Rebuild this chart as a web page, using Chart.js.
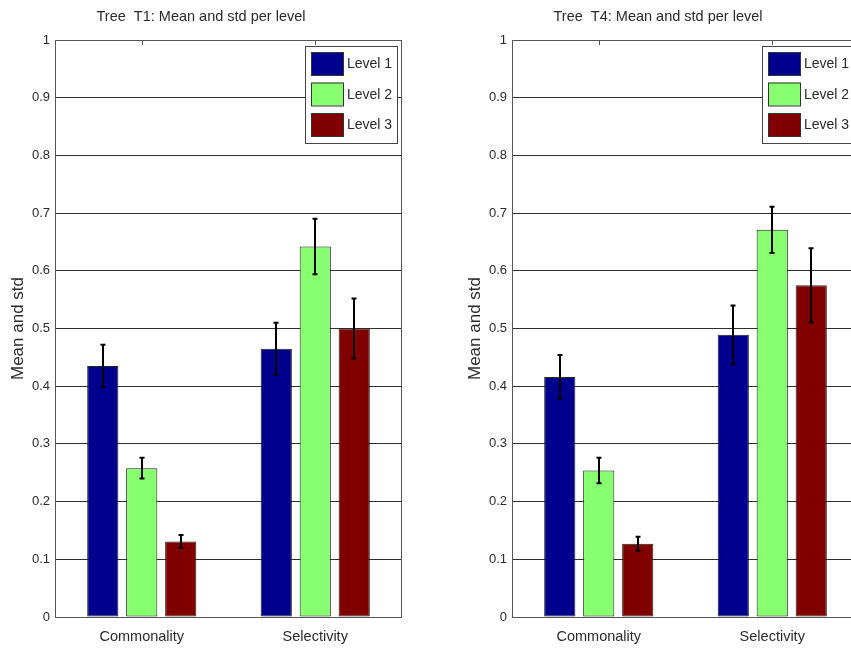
<!DOCTYPE html>
<html>
<head>
<meta charset="utf-8">
<script src="https://cdn.jsdelivr.net/npm/chart.js@4/dist/chart.umd.min.js"></script>
<style>
  html, body { margin: 0; padding: 0; background: #fff; overflow: hidden; }
  #wrap { position: relative; width: 851px; height: 651px; overflow: hidden; }
  .panel { position: absolute; top: 0; width: 457px; height: 651px; }
  #p1 { left: 0; }
  #p4 { left: 457px; }
</style>
</head>
<body>
<div id="wrap">
  <div class="panel" id="p1"><canvas id="c1" width="457" height="651"></canvas></div>
  <div class="panel" id="p4"><canvas id="c4" width="457" height="651"></canvas></div>
</div>
<script>
// Categories, series and ticks
const categories = ['Commonality', 'Selectivity'];
const levelNames = ['Level 1', 'Level 2', 'Level 3'];
const levelColors = ['#00008f', '#88ff70', '#800000'];
const yTicks = [0, 0.1, 0.2, 0.3, 0.4, 0.5, 0.6, 0.7, 0.8, 0.9, 1];

// Tree T1: mean and std per level
const t1Level1Mean = [0.435, 0.465];
const t1Level2Mean = [0.258, 0.642];
const t1Level3Mean = [0.131, 0.500];
const t1Level1Std = [0.037, 0.045];
const t1Level2Std = [0.018, 0.048];
const t1Level3Std = [0.011, 0.052];

// Tree T4: mean and std per level
const t4Level1Mean = [0.416, 0.489];
const t4Level2Mean = [0.254, 0.671];
const t4Level3Mean = [0.127, 0.575];
const t4Level1Std = [0.038, 0.051];
const t4Level2Std = [0.022, 0.040];
const t4Level3Std = [0.012, 0.064];

const FONT = "'Liberation Sans', Arial, Helvetica, sans-serif";
const TEXT = '#2a2a2a';

// Error bars: vertical whisker with small caps at mean ± std
const errorBars = {
  id: 'errorBars',
  afterDatasetsDraw(chart) {
    const ctx = chart.ctx;
    const y = chart.scales.y;
    ctx.save();
    ctx.strokeStyle = '#000';
    ctx.lineWidth = 2;
    chart.data.datasets.forEach((ds, di) => {
      const meta = chart.getDatasetMeta(di);
      meta.data.forEach((bar, i) => {
        const m = ds.data[i], s = ds.std[i];
        const top = y.getPixelForValue(m + s);
        const bot = y.getPixelForValue(m - s);
        const x = Math.round(bar.x);
        ctx.beginPath();
        ctx.moveTo(x, top); ctx.lineTo(x, bot);
        ctx.moveTo(x - 2.5, top); ctx.lineTo(x + 2.5, top);
        ctx.moveTo(x - 2.5, bot); ctx.lineTo(x + 2.5, bot);
        ctx.stroke();
      });
    });
    ctx.restore();
  }
};

// Axes box with inward category ticks on the top edge, and the legend in the corner
const frameAndLegend = {
  id: 'frameAndLegend',
  afterDraw(chart) {
    const ctx = chart.ctx;
    const a = chart.chartArea;
    const x = chart.scales.x;
    ctx.save();
    ctx.strokeStyle = '#555';
    ctx.lineWidth = 1;
    ctx.strokeRect(Math.round(a.left) + 0.5, Math.round(a.top) + 0.5,
                   Math.round(a.right - a.left) - 1, Math.round(a.bottom - a.top));
    ctx.beginPath();
    categories.forEach((c, i) => {
      const px = Math.round(x.getPixelForValue(i)) + 0.5;
      ctx.moveTo(px, a.top); ctx.lineTo(px, a.top + 5);
    });
    ctx.stroke();

    // legend box
    const bx = Math.round(a.right) - 97, by = Math.round(a.top) + 6;
    const bw = 92, bh = 97;
    ctx.fillStyle = '#fff';
    ctx.fillRect(bx, by, bw, bh);
    ctx.strokeStyle = '#444';
    ctx.strokeRect(bx + 0.5, by + 0.5, bw, bh);
    ctx.font = '14px ' + FONT;
    ctx.textBaseline = 'middle';
    ctx.textAlign = 'left';
    chart.data.datasets.forEach((ds, i) => {
      const sy = by + 6 + i * 30.5;
      ctx.fillStyle = ds.backgroundColor;
      ctx.fillRect(bx + 6, sy, 32, 23);
      ctx.strokeStyle = '#333';
      ctx.strokeRect(bx + 6.5, sy + 0.5, 32, 23);
      ctx.fillStyle = TEXT;
      ctx.fillText(ds.label, bx + 42, sy + 12.5);
    });
    ctx.restore();
  }
};

function makeChart(id, title, means, stds) {
  return new Chart(document.getElementById(id), {
    type: 'bar',
    data: {
      labels: categories,
      datasets: levelNames.map((name, i) => ({
        label: name,
        data: means[i],
        std: stds[i],
        backgroundColor: levelColors[i],
        borderColor: '#222',
        borderWidth: 1,
        borderSkipped: false,
        categoryPercentage: 0.674,
        barPercentage: 0.8
      }))
    },
    options: {
      responsive: false,
      animation: false,
      layout: { padding: { left: 0, right: 55, top: 0, bottom: 0 } },
      plugins: {
        legend: { display: false },
        tooltip: { enabled: false },
        title: {
          display: true,
          text: title,
          color: TEXT,
          font: { family: FONT, size: 14.5, weight: 'normal' },
          padding: { top: 8, bottom: 14.6 }
        }
      },
      scales: {
        x: {
          grid: { display: false, drawTicks: false },
          border: { display: false },
          ticks: { color: TEXT, font: { family: FONT, size: 14.5 }, padding: 11 },
          afterFit(s) { s.height = 34; }
        },
        y: {
          min: 0, max: 1,
          afterBuildTicks(s) { s.ticks = yTicks.map(v => ({ value: v })); },
          grid: { color: '#2e2e2e', lineWidth: 1, drawTicks: false },
          border: { display: false },
          ticks: {
            color: TEXT,
            font: { family: FONT, size: 13 },
            padding: 5,
            callback: v => String(v)
          },
          title: {
            display: true,
            text: 'Mean and std',
            color: TEXT,
            font: { family: FONT, size: 17 },
            padding: { top: 8, bottom: 0 }
          },
          afterFit(s) { s.width = 55; }
        }
      }
    },
    plugins: [errorBars, frameAndLegend]
  });
}

makeChart('c1', 'Tree  T1: Mean and std per level',
  [t1Level1Mean, t1Level2Mean, t1Level3Mean],
  [t1Level1Std, t1Level2Std, t1Level3Std]);
makeChart('c4', 'Tree  T4: Mean and std per level',
  [t4Level1Mean, t4Level2Mean, t4Level3Mean],
  [t4Level1Std, t4Level2Std, t4Level3Std]);
</script>
</body>
</html>
